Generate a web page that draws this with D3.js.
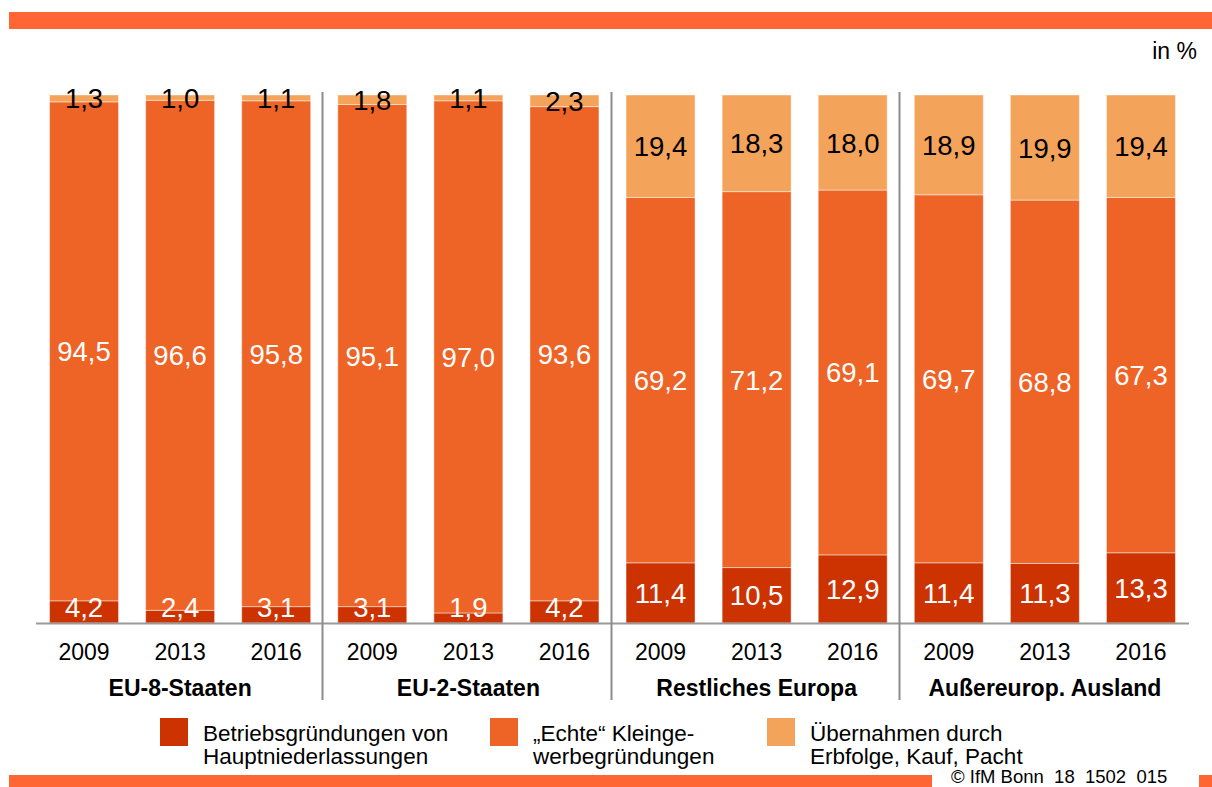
<!DOCTYPE html>
<html>
<head>
<meta charset="utf-8">
<script src="https://cdn.jsdelivr.net/npm/d3@7"></script>
<style>
html,body{margin:0;padding:0;background:#fff;}
svg{display:block;font-family:"Liberation Sans",Arial,sans-serif;}
</style>
</head>
<body>
<svg id="chart" width="1212" height="787"></svg>
<script>
const groups = ["EU-8-Staaten", "EU-2-Staaten", "Restliches Europa", "Außereurop. Ausland"];
const years = ["2009", "2013", "2016"];
const seriesNames = ["Betriebsgründungen von\nHauptniederlassungen", "„Echte“ Kleinge-\nwerbegründungen", "Übernahmen durch\nErbfolge, Kauf, Pacht"];
const betriebsgruendungen = [4.2, 2.4, 3.1, 3.1, 1.9, 4.2, 11.4, 10.5, 12.9, 11.4, 11.3, 13.3];
const echteKleingewerbe = [94.5, 96.6, 95.8, 95.1, 97.0, 93.6, 69.2, 71.2, 69.1, 69.7, 68.8, 67.3];
const uebernahmen = [1.3, 1.0, 1.1, 1.8, 1.1, 2.3, 19.4, 18.3, 18.0, 18.9, 19.9, 19.4];
const colors = ["#CC3300", "#EE6326", "#F4A35A"];
const labelColors = ["#ffffff", "#ffffff", "#000000"];

const svg = d3.select("#chart");
const fmt = v => d3.format(".1f")(v).replace(".", ",");

// frame bars
svg.append("rect").attr("x", 9).attr("y", 12).attr("width", 1203).attr("height", 17).attr("fill", "#FF6633");
svg.append("rect").attr("x", 9).attr("y", 775).attr("width", 923).attr("height", 12).attr("fill", "#FF6633");
svg.append("rect").attr("x", 1199).attr("y", 775).attr("width", 13).attr("height", 12).attr("fill", "#FF6633");
svg.append("text").attr("x", 951).attr("y", 782.5).attr("text-anchor", "start")
  .attr("font-size", 18.5).attr("fill", "#000")
  .style("white-space", "pre").text("© IfM Bonn  18  1502  015");
svg.append("text").attr("x", 1197).attr("y", 59).attr("text-anchor", "end")
  .attr("font-size", 23).attr("fill", "#000").text("in %");

const keys = [];
groups.forEach(g => years.forEach(y => keys.push(g + "|" + y)));
const rows = keys.map((k, i) => ({key: k, v0: betriebsgruendungen[i], v1: echteKleingewerbe[i], v2: uebernahmen[i]}));
const stack = d3.stack().keys(["v0", "v1", "v2"])(rows);

const x = d3.scaleBand().domain(keys).range([36, 1189]).paddingInner(0.282).paddingOuter(0.141);
const y = d3.scaleLinear().domain([0, 100]).range([623, 95]);

const layers = svg.append("g").selectAll("g").data(stack).join("g")
  .attr("fill", (d, i) => colors[i]);
layers.selectAll("rect").data(d => d).join("rect")
  .attr("x", d => x(d.data.key))
  .attr("width", x.bandwidth())
  .attr("y", d => y(Math.min(d[1], 100)))
  .attr("height", d => y(d[0]) - y(Math.min(d[1], 100)))
  .attr("stroke", "rgba(255,255,255,0.45)")
  .attr("stroke-width", 1);

// value labels
stack.forEach((layer, li) => {
  svg.append("g").selectAll("text").data(layer).join("text")
    .attr("x", d => x(d.data.key) + x.bandwidth() / 2)
    .attr("y", d => {
      let c = (y(d[0]) + y(Math.min(d[1], 100))) / 2;
      if (li === 0) c = Math.min(c, 607);
      if (li === 2) c = Math.max(c, 93);
      return c + 10;
    })
    .attr("text-anchor", "middle")
    .attr("font-size", 27.5)
    .attr("fill", labelColors[li])
    .text(d => fmt(d.data["v" + li]));
});

// axis line
svg.append("line").attr("x1", 36).attr("x2", 1189).attr("y1", 623.5).attr("y2", 623.5)
  .attr("stroke", "#999").attr("stroke-width", 2);

// separators
[3, 6, 9].forEach(i => {
  const sx = Math.round(x(keys[i]) - x.step() * x.paddingInner() / 2) - 1.5;
  svg.append("line").attr("x1", sx).attr("x2", sx).attr("y1", 92).attr("y2", 700)
    .attr("stroke", "#8c8c8c").attr("stroke-width", 2);
});

// year labels
svg.append("g").selectAll("text").data(keys).join("text")
  .attr("x", d => x(d) + x.bandwidth() / 2)
  .attr("y", 660)
  .attr("text-anchor", "middle")
  .attr("font-size", 23)
  .attr("fill", "#000")
  .text(d => d.split("|")[1]);

// group labels
svg.append("g").selectAll("text").data(groups).join("text")
  .attr("x", g => (x(g + "|" + years[0]) + x(g + "|" + years[2]) + x.bandwidth()) / 2)
  .attr("y", 696)
  .attr("text-anchor", "middle")
  .attr("font-size", 23)
  .attr("font-weight", "bold")
  .attr("fill", "#000")
  .text(g => g);

// legend
const legendX = [160, 490, 767];
seriesNames.forEach((name, i) => {
  const g = svg.append("g").attr("transform", `translate(${legendX[i]},718)`);
  g.append("rect").attr("width", 28).attr("height", 28).attr("fill", colors[i]);
  name.split("\n").forEach((line, j) => {
    g.append("text").attr("x", 43).attr("y", 23 + j * 23)
      .attr("font-size", 22.5).attr("fill", "#000").text(line);
  });
});
</script>
</body>
</html>
